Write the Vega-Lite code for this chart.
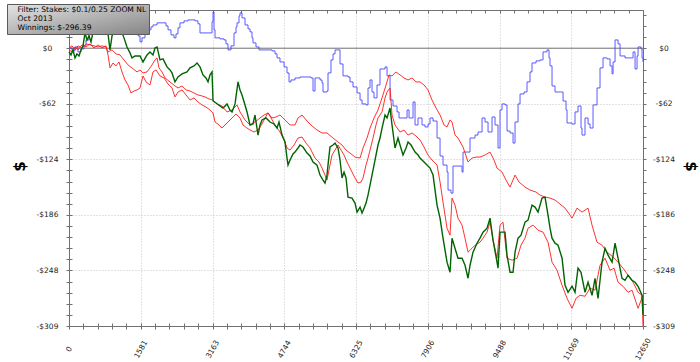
{
  "$schema": "https://vega.github.io/schema/vega-lite/v6.json",
  "width": 574,
  "height": 316,
  "autosize": {"type": "none"},
  "padding": {"left": 69, "top": 10, "right": 57, "bottom": 36},
  "background": "white",
  "config": {"view": {"stroke": null}, "font": "DejaVu Sans"},
  "datasets": {
    "info": [
      {"t": "Filter: Stakes: $0.1/0.25 ZOOM NL"},
      {"t": "Oct 2013"},
      {"t": "Winnings: $-296.39"}
    ],
    "lines": [
      {"s":"B","h":0,"v":0.3},{"s":"B","h":66,"v":-3.0},{"s":"B","h":132,"v":1.4},{"s":"B","h":198,"v":-4.1},{"s":"B","h":264,"v":-0.8},{"s":"B","h":331,"v":2.6},{"s":"B","h":375,"v":9.2},{"s":"B","h":441,"v":18.2},{"s":"B","h":529,"v":24.8},{"s":"B","h":639,"v":29.3},{"s":"B","h":749,"v":27.1},{"s":"B","h":860,"v":31.5},{"s":"B","h":970,"v":27.1},{"s":"B","h":1080,"v":23.7},{"s":"B","h":1190,"v":20.4},{"s":"B","h":1278,"v":18.2},{"s":"B","h":1366,"v":15.9},{"s":"B","h":1455,"v":17.0},{"s":"B","h":1521,"v":13.7},{"s":"B","h":1565,"v":7.0},{"s":"B","h":1609,"v":11.5},{"s":"B","h":1675,"v":17.0},{"s":"B","h":1741,"v":20.4},{"s":"B","h":1807,"v":23.7},{"s":"B","h":1851,"v":25.9},{"s":"B","h":1940,"v":28.2},{"s":"B","h":2072,"v":28.2},{"s":"B","h":2138,"v":24.8},{"s":"B","h":2182,"v":20.4},{"s":"B","h":2248,"v":14.8},{"s":"B","h":2314,"v":11.5},{"s":"B","h":2358,"v":15.9},{"s":"B","h":2402,"v":22.6},{"s":"B","h":2446,"v":28.2},{"s":"B","h":2535,"v":30.4},{"s":"B","h":2623,"v":31.5},{"s":"B","h":2711,"v":31.5},{"s":"B","h":2777,"v":30.4},{"s":"B","h":2843,"v":27.1},{"s":"B","h":2887,"v":17.0},{"s":"B","h":3019,"v":17.0},{"s":"B","h":3130,"v":17.0},{"s":"B","h":3152,"v":29.3},{"s":"B","h":3174,"v":40.4},{"s":"B","h":3196,"v":20.4},{"s":"B","h":3218,"v":11.5},{"s":"B","h":3328,"v":10.4},{"s":"B","h":3416,"v":9.2},{"s":"B","h":3460,"v":4.8},{"s":"B","h":3504,"v":-1.9},{"s":"B","h":3570,"v":2.6},{"s":"B","h":3637,"v":17.0},{"s":"B","h":3681,"v":23.7},{"s":"B","h":3703,"v":28.2},{"s":"B","h":3747,"v":36.0},{"s":"B","h":3769,"v":39.3},{"s":"B","h":3813,"v":33.7},{"s":"B","h":3879,"v":25.9},{"s":"B","h":3945,"v":21.5},{"s":"B","h":3989,"v":18.2},{"s":"B","h":4033,"v":11.5},{"s":"B","h":4055,"v":5.9},{"s":"B","h":4121,"v":1.4},{"s":"B","h":4188,"v":-1.9},{"s":"B","h":4342,"v":-1.9},{"s":"B","h":4474,"v":-3.0},{"s":"B","h":4540,"v":-6.3},{"s":"B","h":4584,"v":-10.8},{"s":"B","h":4650,"v":-15.3},{"s":"B","h":4739,"v":-20.8},{"s":"B","h":4805,"v":-27.5},{"s":"B","h":4849,"v":-37.5},{"s":"B","h":4893,"v":-35.3},{"s":"B","h":4981,"v":-33.1},{"s":"B","h":5091,"v":-32.0},{"s":"B","h":5223,"v":-32.0},{"s":"B","h":5334,"v":-33.1},{"s":"B","h":5378,"v":-47.6},{"s":"B","h":5422,"v":-33.1},{"s":"B","h":5532,"v":-35.3},{"s":"B","h":5576,"v":-38.6},{"s":"B","h":5598,"v":-48.7},{"s":"B","h":5686,"v":-47.6},{"s":"B","h":5708,"v":-27.5},{"s":"B","h":5774,"v":-13.0},{"s":"B","h":5819,"v":-6.3},{"s":"B","h":5863,"v":-1.9},{"s":"B","h":5951,"v":-1.9},{"s":"B","h":5973,"v":-17.5},{"s":"B","h":6039,"v":-30.8},{"s":"B","h":6149,"v":-32.0},{"s":"B","h":6193,"v":-37.5},{"s":"B","h":6259,"v":-43.1},{"s":"B","h":6348,"v":-49.8},{"s":"B","h":6414,"v":-57.6},{"s":"B","h":6458,"v":-62.0},{"s":"B","h":6546,"v":-63.1},{"s":"B","h":6590,"v":-44.2},{"s":"B","h":6634,"v":-35.3},{"s":"B","h":6678,"v":-48.7},{"s":"B","h":6722,"v":-55.3},{"s":"B","h":6788,"v":-40.9},{"s":"B","h":6854,"v":-23.1},{"s":"B","h":6965,"v":-20.8},{"s":"B","h":7009,"v":-30.8},{"s":"B","h":7075,"v":-57.6},{"s":"B","h":7141,"v":-64.3},{"s":"B","h":7229,"v":-70.9},{"s":"B","h":7273,"v":-77.6},{"s":"B","h":7383,"v":-77.6},{"s":"B","h":7450,"v":-68.7},{"s":"B","h":7494,"v":-77.6},{"s":"B","h":7582,"v":-59.8},{"s":"B","h":7626,"v":-85.4},{"s":"B","h":7692,"v":-77.6},{"s":"B","h":7780,"v":-85.4},{"s":"B","h":7846,"v":-87.6},{"s":"B","h":7912,"v":-84.3},{"s":"B","h":7956,"v":-77.6},{"s":"B","h":8023,"v":-81.0},{"s":"B","h":8111,"v":-99.9},{"s":"B","h":8177,"v":-119.9},{"s":"B","h":8243,"v":-130.0},{"s":"B","h":8331,"v":-137.8},{"s":"B","h":8353,"v":-157.8},{"s":"B","h":8419,"v":-161.2},{"s":"B","h":8463,"v":-131.1},{"s":"B","h":8573,"v":-131.1},{"s":"B","h":8662,"v":-137.8},{"s":"B","h":8684,"v":-115.5},{"s":"B","h":8794,"v":-115.5},{"s":"B","h":8838,"v":-99.9},{"s":"B","h":8948,"v":-96.6},{"s":"B","h":9014,"v":-93.2},{"s":"B","h":9103,"v":-77.6},{"s":"B","h":9169,"v":-82.1},{"s":"B","h":9235,"v":-93.2},{"s":"B","h":9323,"v":-76.5},{"s":"B","h":9389,"v":-85.4},{"s":"B","h":9455,"v":-111.0},{"s":"B","h":9499,"v":-68.7},{"s":"B","h":9543,"v":-62.0},{"s":"B","h":9609,"v":-63.1},{"s":"B","h":9653,"v":-92.1},{"s":"B","h":9720,"v":-94.3},{"s":"B","h":9786,"v":-105.5},{"s":"B","h":9830,"v":-82.1},{"s":"B","h":9896,"v":-62.0},{"s":"B","h":9940,"v":-50.9},{"s":"B","h":10028,"v":-48.7},{"s":"B","h":10094,"v":-37.5},{"s":"B","h":10160,"v":-26.4},{"s":"B","h":10204,"v":-16.4},{"s":"B","h":10293,"v":-14.1},{"s":"B","h":10381,"v":-13.0},{"s":"B","h":10447,"v":-4.1},{"s":"B","h":10535,"v":-1.9},{"s":"B","h":10579,"v":-10.8},{"s":"B","h":10601,"v":-19.7},{"s":"B","h":10645,"v":-42.0},{"s":"B","h":10711,"v":-48.7},{"s":"B","h":10822,"v":-48.7},{"s":"B","h":10888,"v":-58.7},{"s":"B","h":10954,"v":-68.7},{"s":"B","h":10976,"v":-83.2},{"s":"B","h":11086,"v":-84.3},{"s":"B","h":11152,"v":-70.9},{"s":"B","h":11218,"v":-64.3},{"s":"B","h":11284,"v":-88.8},{"s":"B","h":11306,"v":-96.6},{"s":"B","h":11372,"v":-77.6},{"s":"B","h":11439,"v":-84.3},{"s":"B","h":11483,"v":-88.8},{"s":"B","h":11549,"v":-63.1},{"s":"B","h":11637,"v":-44.2},{"s":"B","h":11703,"v":-21.9},{"s":"B","h":11769,"v":-10.8},{"s":"B","h":11858,"v":-11.9},{"s":"B","h":11924,"v":-19.7},{"s":"B","h":11968,"v":-28.6},{"s":"B","h":11990,"v":-15.3},{"s":"B","h":12034,"v":9.2},{"s":"B","h":12100,"v":4.8},{"s":"B","h":12144,"v":-8.6},{"s":"B","h":12254,"v":-10.8},{"s":"B","h":12386,"v":-10.8},{"s":"B","h":12431,"v":-4.1},{"s":"B","h":12475,"v":-23.1},{"s":"B","h":12519,"v":-8.6},{"s":"B","h":12541,"v":1.4},{"s":"B","h":12607,"v":-0.8},{"s":"B","h":12629,"v":-10.8},{"s":"B","h":12650,"v":-15.3},
      {"s":"G","h":0,"v":-4.1},{"s":"G","h":44,"v":-7.5},{"s":"G","h":88,"v":-1.9},{"s":"G","h":132,"v":-10.8},{"s":"G","h":176,"v":-6.3},{"s":"G","h":220,"v":-8.6},{"s":"G","h":264,"v":-1.9},{"s":"G","h":309,"v":2.6},{"s":"G","h":353,"v":17.0},{"s":"G","h":397,"v":9.2},{"s":"G","h":441,"v":13.7},{"s":"G","h":485,"v":7.0},{"s":"G","h":529,"v":18.2},{"s":"G","h":573,"v":22.6},{"s":"G","h":683,"v":20.4},{"s":"G","h":771,"v":24.8},{"s":"G","h":860,"v":15.9},{"s":"G","h":904,"v":-1.9},{"s":"G","h":948,"v":13.7},{"s":"G","h":1014,"v":22.6},{"s":"G","h":1080,"v":18.2},{"s":"G","h":1146,"v":20.4},{"s":"G","h":1212,"v":11.5},{"s":"G","h":1278,"v":1.4},{"s":"G","h":1344,"v":-5.2},{"s":"G","h":1389,"v":-10.8},{"s":"G","h":1455,"v":-8.6},{"s":"G","h":1565,"v":-8.6},{"s":"G","h":1631,"v":-15.3},{"s":"G","h":1719,"v":-7.5},{"s":"G","h":1785,"v":-4.1},{"s":"G","h":1851,"v":-7.5},{"s":"G","h":1895,"v":0.3},{"s":"G","h":1940,"v":1.4},{"s":"G","h":2006,"v":-13.0},{"s":"G","h":2072,"v":-11.9},{"s":"G","h":2160,"v":-20.8},{"s":"G","h":2226,"v":-24.2},{"s":"G","h":2270,"v":-27.5},{"s":"G","h":2336,"v":-37.5},{"s":"G","h":2402,"v":-32.0},{"s":"G","h":2491,"v":-28.6},{"s":"G","h":2601,"v":-26.4},{"s":"G","h":2667,"v":-21.9},{"s":"G","h":2755,"v":-19.7},{"s":"G","h":2821,"v":-16.4},{"s":"G","h":2887,"v":-20.8},{"s":"G","h":2953,"v":-29.7},{"s":"G","h":3019,"v":-33.1},{"s":"G","h":3064,"v":-37.5},{"s":"G","h":3108,"v":-29.7},{"s":"G","h":3152,"v":-26.4},{"s":"G","h":3174,"v":-58.7},{"s":"G","h":3240,"v":-60.9},{"s":"G","h":3328,"v":-64.3},{"s":"G","h":3394,"v":-66.5},{"s":"G","h":3482,"v":-62.0},{"s":"G","h":3548,"v":-68.7},{"s":"G","h":3593,"v":-70.9},{"s":"G","h":3659,"v":-62.0},{"s":"G","h":3725,"v":-37.5},{"s":"G","h":3769,"v":-46.4},{"s":"G","h":3813,"v":-52.0},{"s":"G","h":3879,"v":-63.1},{"s":"G","h":3923,"v":-70.9},{"s":"G","h":3989,"v":-85.4},{"s":"G","h":4055,"v":-84.3},{"s":"G","h":4099,"v":-74.3},{"s":"G","h":4166,"v":-96.6},{"s":"G","h":4210,"v":-85.4},{"s":"G","h":4254,"v":-79.8},{"s":"G","h":4342,"v":-77.6},{"s":"G","h":4430,"v":-82.1},{"s":"G","h":4518,"v":-84.3},{"s":"G","h":4584,"v":-88.8},{"s":"G","h":4628,"v":-82.1},{"s":"G","h":4695,"v":-96.6},{"s":"G","h":4761,"v":-104.3},{"s":"G","h":4805,"v":-122.2},{"s":"G","h":4827,"v":-130.0},{"s":"G","h":4871,"v":-124.4},{"s":"G","h":4937,"v":-117.7},{"s":"G","h":4981,"v":-115.5},{"s":"G","h":5047,"v":-111.0},{"s":"G","h":5091,"v":-107.7},{"s":"G","h":5157,"v":-109.9},{"s":"G","h":5246,"v":-116.6},{"s":"G","h":5312,"v":-119.9},{"s":"G","h":5378,"v":-126.6},{"s":"G","h":5466,"v":-130.0},{"s":"G","h":5532,"v":-141.1},{"s":"G","h":5598,"v":-146.7},{"s":"G","h":5642,"v":-150.0},{"s":"G","h":5686,"v":-141.1},{"s":"G","h":5708,"v":-130.0},{"s":"G","h":5752,"v":-109.9},{"s":"G","h":5819,"v":-107.7},{"s":"G","h":5863,"v":-105.5},{"s":"G","h":5929,"v":-111.0},{"s":"G","h":5973,"v":-124.4},{"s":"G","h":6017,"v":-144.4},{"s":"G","h":6061,"v":-137.8},{"s":"G","h":6105,"v":-144.4},{"s":"G","h":6149,"v":-165.6},{"s":"G","h":6237,"v":-166.7},{"s":"G","h":6303,"v":-172.3},{"s":"G","h":6348,"v":-182.3},{"s":"G","h":6414,"v":-176.7},{"s":"G","h":6458,"v":-183.4},{"s":"G","h":6502,"v":-177.9},{"s":"G","h":6546,"v":-172.3},{"s":"G","h":6590,"v":-163.4},{"s":"G","h":6634,"v":-152.2},{"s":"G","h":6678,"v":-141.1},{"s":"G","h":6744,"v":-124.4},{"s":"G","h":6810,"v":-107.7},{"s":"G","h":6854,"v":-99.9},{"s":"G","h":6899,"v":-88.8},{"s":"G","h":6965,"v":-74.3},{"s":"G","h":7009,"v":-77.6},{"s":"G","h":7075,"v":-66.5},{"s":"G","h":7119,"v":-85.4},{"s":"G","h":7185,"v":-111.0},{"s":"G","h":7251,"v":-99.9},{"s":"G","h":7295,"v":-107.7},{"s":"G","h":7361,"v":-118.8},{"s":"G","h":7427,"v":-111.0},{"s":"G","h":7472,"v":-104.3},{"s":"G","h":7538,"v":-107.7},{"s":"G","h":7626,"v":-115.5},{"s":"G","h":7692,"v":-118.8},{"s":"G","h":7736,"v":-122.2},{"s":"G","h":7846,"v":-127.7},{"s":"G","h":7956,"v":-133.3},{"s":"G","h":8023,"v":-141.1},{"s":"G","h":8067,"v":-157.8},{"s":"G","h":8111,"v":-174.5},{"s":"G","h":8177,"v":-189.0},{"s":"G","h":8243,"v":-211.3},{"s":"G","h":8287,"v":-224.7},{"s":"G","h":8331,"v":-238.0},{"s":"G","h":8397,"v":-249.2},{"s":"G","h":8441,"v":-211.3},{"s":"G","h":8507,"v":-222.5},{"s":"G","h":8573,"v":-233.6},{"s":"G","h":8662,"v":-233.6},{"s":"G","h":8728,"v":-241.4},{"s":"G","h":8794,"v":-255.9},{"s":"G","h":8838,"v":-241.4},{"s":"G","h":8904,"v":-226.9},{"s":"G","h":8992,"v":-216.9},{"s":"G","h":9058,"v":-211.3},{"s":"G","h":9125,"v":-204.6},{"s":"G","h":9213,"v":-200.2},{"s":"G","h":9279,"v":-189.0},{"s":"G","h":9345,"v":-213.5},{"s":"G","h":9433,"v":-238.0},{"s":"G","h":9455,"v":-244.7},{"s":"G","h":9499,"v":-204.6},{"s":"G","h":9609,"v":-204.6},{"s":"G","h":9653,"v":-230.2},{"s":"G","h":9720,"v":-249.2},{"s":"G","h":9786,"v":-249.2},{"s":"G","h":9830,"v":-226.9},{"s":"G","h":9896,"v":-211.3},{"s":"G","h":9962,"v":-208.0},{"s":"G","h":10050,"v":-193.5},{"s":"G","h":10116,"v":-191.3},{"s":"G","h":10204,"v":-174.5},{"s":"G","h":10271,"v":-176.7},{"s":"G","h":10337,"v":-182.3},{"s":"G","h":10425,"v":-166.7},{"s":"G","h":10491,"v":-165.6},{"s":"G","h":10557,"v":-185.7},{"s":"G","h":10601,"v":-200.2},{"s":"G","h":10645,"v":-211.3},{"s":"G","h":10711,"v":-216.9},{"s":"G","h":10778,"v":-219.1},{"s":"G","h":10866,"v":-233.6},{"s":"G","h":10932,"v":-263.7},{"s":"G","h":10998,"v":-271.5},{"s":"G","h":11086,"v":-264.8},{"s":"G","h":11152,"v":-271.5},{"s":"G","h":11218,"v":-244.7},{"s":"G","h":11284,"v":-249.2},{"s":"G","h":11372,"v":-271.5},{"s":"G","h":11439,"v":-260.3},{"s":"G","h":11527,"v":-274.8},{"s":"G","h":11593,"v":-255.9},{"s":"G","h":11659,"v":-278.2},{"s":"G","h":11703,"v":-258.1},{"s":"G","h":11747,"v":-238.0},{"s":"G","h":11813,"v":-222.5},{"s":"G","h":11880,"v":-230.2},{"s":"G","h":11968,"v":-238.0},{"s":"G","h":12034,"v":-216.9},{"s":"G","h":12100,"v":-233.6},{"s":"G","h":12188,"v":-255.9},{"s":"G","h":12254,"v":-258.1},{"s":"G","h":12320,"v":-252.5},{"s":"G","h":12408,"v":-258.1},{"s":"G","h":12475,"v":-260.3},{"s":"G","h":12541,"v":-264.8},{"s":"G","h":12629,"v":-274.8},{"s":"G","h":12650,"v":-296.39},
      {"s":"RA","h":0,"v":0.3},{"s":"RA","h":66,"v":2.6},{"s":"RA","h":132,"v":-1.9},{"s":"RA","h":198,"v":2.6},{"s":"RA","h":287,"v":0.3},{"s":"RA","h":375,"v":4.8},{"s":"RA","h":463,"v":3.7},{"s":"RA","h":551,"v":2.6},{"s":"RA","h":639,"v":1.4},{"s":"RA","h":727,"v":2.6},{"s":"RA","h":815,"v":1.4},{"s":"RA","h":860,"v":-4.1},{"s":"RA","h":948,"v":-1.9},{"s":"RA","h":1036,"v":-6.3},{"s":"RA","h":1124,"v":-7.5},{"s":"RA","h":1212,"v":-13.0},{"s":"RA","h":1300,"v":-18.6},{"s":"RA","h":1389,"v":-21.9},{"s":"RA","h":1499,"v":-26.4},{"s":"RA","h":1565,"v":-24.2},{"s":"RA","h":1631,"v":-27.5},{"s":"RA","h":1719,"v":-26.4},{"s":"RA","h":1785,"v":-21.9},{"s":"RA","h":1829,"v":-18.6},{"s":"RA","h":1895,"v":-13.0},{"s":"RA","h":1940,"v":-10.8},{"s":"RA","h":1984,"v":-21.9},{"s":"RA","h":2050,"v":-26.4},{"s":"RA","h":2116,"v":-33.1},{"s":"RA","h":2226,"v":-37.5},{"s":"RA","h":2336,"v":-42.0},{"s":"RA","h":2402,"v":-44.2},{"s":"RA","h":2491,"v":-42.0},{"s":"RA","h":2579,"v":-46.4},{"s":"RA","h":2667,"v":-47.6},{"s":"RA","h":2755,"v":-49.8},{"s":"RA","h":2843,"v":-52.0},{"s":"RA","h":2931,"v":-53.1},{"s":"RA","h":2997,"v":-54.2},{"s":"RA","h":3086,"v":-56.5},{"s":"RA","h":3174,"v":-57.6},{"s":"RA","h":3262,"v":-62.0},{"s":"RA","h":3372,"v":-64.3},{"s":"RA","h":3482,"v":-70.9},{"s":"RA","h":3593,"v":-68.7},{"s":"RA","h":3703,"v":-63.1},{"s":"RA","h":3769,"v":-70.9},{"s":"RA","h":3879,"v":-79.8},{"s":"RA","h":3989,"v":-85.4},{"s":"RA","h":4099,"v":-82.1},{"s":"RA","h":4210,"v":-77.6},{"s":"RA","h":4298,"v":-74.3},{"s":"RA","h":4386,"v":-72.0},{"s":"RA","h":4474,"v":-77.6},{"s":"RA","h":4562,"v":-76.5},{"s":"RA","h":4650,"v":-74.3},{"s":"RA","h":4761,"v":-79.8},{"s":"RA","h":4871,"v":-85.4},{"s":"RA","h":4981,"v":-85.4},{"s":"RA","h":5047,"v":-77.6},{"s":"RA","h":5135,"v":-74.3},{"s":"RA","h":5246,"v":-81.0},{"s":"RA","h":5356,"v":-86.5},{"s":"RA","h":5466,"v":-91.0},{"s":"RA","h":5576,"v":-94.3},{"s":"RA","h":5686,"v":-94.3},{"s":"RA","h":5819,"v":-99.9},{"s":"RA","h":5929,"v":-104.3},{"s":"RA","h":6017,"v":-107.7},{"s":"RA","h":6105,"v":-113.3},{"s":"RA","h":6193,"v":-116.6},{"s":"RA","h":6303,"v":-121.1},{"s":"RA","h":6414,"v":-122.2},{"s":"RA","h":6480,"v":-111.0},{"s":"RA","h":6568,"v":-99.9},{"s":"RA","h":6634,"v":-88.8},{"s":"RA","h":6722,"v":-77.6},{"s":"RA","h":6810,"v":-68.7},{"s":"RA","h":6899,"v":-55.3},{"s":"RA","h":6987,"v":-40.9},{"s":"RA","h":7053,"v":-29.7},{"s":"RA","h":7119,"v":-30.8},{"s":"RA","h":7207,"v":-26.4},{"s":"RA","h":7295,"v":-29.7},{"s":"RA","h":7383,"v":-33.1},{"s":"RA","h":7472,"v":-35.3},{"s":"RA","h":7560,"v":-33.1},{"s":"RA","h":7648,"v":-37.5},{"s":"RA","h":7736,"v":-37.5},{"s":"RA","h":7824,"v":-40.9},{"s":"RA","h":7912,"v":-46.4},{"s":"RA","h":8000,"v":-57.6},{"s":"RA","h":8089,"v":-66.5},{"s":"RA","h":8177,"v":-74.3},{"s":"RA","h":8265,"v":-85.4},{"s":"RA","h":8331,"v":-87.6},{"s":"RA","h":8397,"v":-79.8},{"s":"RA","h":8441,"v":-82.1},{"s":"RA","h":8507,"v":-96.6},{"s":"RA","h":8573,"v":-99.9},{"s":"RA","h":8684,"v":-109.9},{"s":"RA","h":8794,"v":-126.6},{"s":"RA","h":8882,"v":-122.2},{"s":"RA","h":8970,"v":-121.1},{"s":"RA","h":9058,"v":-121.1},{"s":"RA","h":9169,"v":-118.8},{"s":"RA","h":9279,"v":-115.5},{"s":"RA","h":9367,"v":-124.4},{"s":"RA","h":9433,"v":-133.3},{"s":"RA","h":9543,"v":-137.8},{"s":"RA","h":9631,"v":-146.7},{"s":"RA","h":9720,"v":-154.5},{"s":"RA","h":9830,"v":-141.1},{"s":"RA","h":9918,"v":-148.9},{"s":"RA","h":10050,"v":-154.5},{"s":"RA","h":10160,"v":-157.8},{"s":"RA","h":10293,"v":-160.0},{"s":"RA","h":10381,"v":-163.4},{"s":"RA","h":10491,"v":-165.6},{"s":"RA","h":10601,"v":-166.7},{"s":"RA","h":10711,"v":-168.9},{"s":"RA","h":10822,"v":-173.4},{"s":"RA","h":10932,"v":-177.9},{"s":"RA","h":11042,"v":-185.7},{"s":"RA","h":11086,"v":-189.0},{"s":"RA","h":11196,"v":-177.9},{"s":"RA","h":11306,"v":-182.3},{"s":"RA","h":11439,"v":-177.9},{"s":"RA","h":11527,"v":-196.8},{"s":"RA","h":11637,"v":-215.8},{"s":"RA","h":11747,"v":-219.1},{"s":"RA","h":11858,"v":-226.9},{"s":"RA","h":11968,"v":-231.3},{"s":"RA","h":12100,"v":-238.0},{"s":"RA","h":12210,"v":-244.7},{"s":"RA","h":12320,"v":-252.5},{"s":"RA","h":12431,"v":-260.3},{"s":"RA","h":12541,"v":-271.5},{"s":"RA","h":12629,"v":-274.8},{"s":"RA","h":12650,"v":-309},
      {"s":"RB","h":0,"v":-1.9},{"s":"RB","h":66,"v":-4.1},{"s":"RB","h":132,"v":1.4},{"s":"RB","h":198,"v":-1.9},{"s":"RB","h":287,"v":3.7},{"s":"RB","h":375,"v":1.4},{"s":"RB","h":463,"v":4.8},{"s":"RB","h":551,"v":0.3},{"s":"RB","h":639,"v":3.7},{"s":"RB","h":727,"v":0.3},{"s":"RB","h":815,"v":2.6},{"s":"RB","h":860,"v":-7.5},{"s":"RB","h":904,"v":-21.9},{"s":"RB","h":970,"v":-16.4},{"s":"RB","h":1036,"v":-19.7},{"s":"RB","h":1102,"v":-15.3},{"s":"RB","h":1168,"v":-26.4},{"s":"RB","h":1234,"v":-35.3},{"s":"RB","h":1300,"v":-40.9},{"s":"RB","h":1366,"v":-49.8},{"s":"RB","h":1433,"v":-47.6},{"s":"RB","h":1499,"v":-46.4},{"s":"RB","h":1565,"v":-44.2},{"s":"RB","h":1631,"v":-30.8},{"s":"RB","h":1697,"v":-37.5},{"s":"RB","h":1785,"v":-40.9},{"s":"RB","h":1851,"v":-26.4},{"s":"RB","h":1917,"v":-24.2},{"s":"RB","h":2006,"v":-30.8},{"s":"RB","h":2094,"v":-33.1},{"s":"RB","h":2182,"v":-39.8},{"s":"RB","h":2270,"v":-44.2},{"s":"RB","h":2336,"v":-54.2},{"s":"RB","h":2402,"v":-48.7},{"s":"RB","h":2491,"v":-46.4},{"s":"RB","h":2579,"v":-52.0},{"s":"RB","h":2667,"v":-57.6},{"s":"RB","h":2755,"v":-55.3},{"s":"RB","h":2843,"v":-59.8},{"s":"RB","h":2931,"v":-63.1},{"s":"RB","h":3019,"v":-65.4},{"s":"RB","h":3108,"v":-68.7},{"s":"RB","h":3174,"v":-72.0},{"s":"RB","h":3218,"v":-82.1},{"s":"RB","h":3306,"v":-85.4},{"s":"RB","h":3372,"v":-88.8},{"s":"RB","h":3460,"v":-84.3},{"s":"RB","h":3548,"v":-79.8},{"s":"RB","h":3615,"v":-76.5},{"s":"RB","h":3681,"v":-73.2},{"s":"RB","h":3769,"v":-77.6},{"s":"RB","h":3835,"v":-85.4},{"s":"RB","h":3923,"v":-88.8},{"s":"RB","h":3989,"v":-91.0},{"s":"RB","h":4077,"v":-93.2},{"s":"RB","h":4166,"v":-91.0},{"s":"RB","h":4254,"v":-84.3},{"s":"RB","h":4320,"v":-77.6},{"s":"RB","h":4386,"v":-72.0},{"s":"RB","h":4452,"v":-77.6},{"s":"RB","h":4540,"v":-85.4},{"s":"RB","h":4650,"v":-93.2},{"s":"RB","h":4739,"v":-102.1},{"s":"RB","h":4805,"v":-111.0},{"s":"RB","h":4871,"v":-113.3},{"s":"RB","h":4959,"v":-107.7},{"s":"RB","h":5047,"v":-99.9},{"s":"RB","h":5135,"v":-98.8},{"s":"RB","h":5223,"v":-105.5},{"s":"RB","h":5312,"v":-111.0},{"s":"RB","h":5422,"v":-122.2},{"s":"RB","h":5510,"v":-126.6},{"s":"RB","h":5576,"v":-133.3},{"s":"RB","h":5642,"v":-141.1},{"s":"RB","h":5686,"v":-146.7},{"s":"RB","h":5730,"v":-135.5},{"s":"RB","h":5797,"v":-118.8},{"s":"RB","h":5863,"v":-113.3},{"s":"RB","h":5929,"v":-107.7},{"s":"RB","h":5995,"v":-113.3},{"s":"RB","h":6061,"v":-118.8},{"s":"RB","h":6127,"v":-126.6},{"s":"RB","h":6215,"v":-135.5},{"s":"RB","h":6303,"v":-144.4},{"s":"RB","h":6370,"v":-150.0},{"s":"RB","h":6436,"v":-148.9},{"s":"RB","h":6480,"v":-144.4},{"s":"RB","h":6546,"v":-130.0},{"s":"RB","h":6590,"v":-122.2},{"s":"RB","h":6634,"v":-113.3},{"s":"RB","h":6700,"v":-99.9},{"s":"RB","h":6766,"v":-85.4},{"s":"RB","h":6810,"v":-77.6},{"s":"RB","h":6899,"v":-70.9},{"s":"RB","h":6965,"v":-55.3},{"s":"RB","h":7009,"v":-48.7},{"s":"RB","h":7075,"v":-44.2},{"s":"RB","h":7119,"v":-74.3},{"s":"RB","h":7185,"v":-85.4},{"s":"RB","h":7295,"v":-93.2},{"s":"RB","h":7383,"v":-91.0},{"s":"RB","h":7472,"v":-96.6},{"s":"RB","h":7560,"v":-94.3},{"s":"RB","h":7648,"v":-97.7},{"s":"RB","h":7736,"v":-102.1},{"s":"RB","h":7824,"v":-109.9},{"s":"RB","h":7912,"v":-118.8},{"s":"RB","h":8000,"v":-124.4},{"s":"RB","h":8111,"v":-130.0},{"s":"RB","h":8177,"v":-148.9},{"s":"RB","h":8243,"v":-171.2},{"s":"RB","h":8331,"v":-200.2},{"s":"RB","h":8397,"v":-208.0},{"s":"RB","h":8441,"v":-166.7},{"s":"RB","h":8507,"v":-174.5},{"s":"RB","h":8573,"v":-189.0},{"s":"RB","h":8662,"v":-196.8},{"s":"RB","h":8728,"v":-211.3},{"s":"RB","h":8794,"v":-226.9},{"s":"RB","h":8882,"v":-222.5},{"s":"RB","h":8948,"v":-219.1},{"s":"RB","h":9058,"v":-215.8},{"s":"RB","h":9125,"v":-211.3},{"s":"RB","h":9213,"v":-204.6},{"s":"RB","h":9279,"v":-193.5},{"s":"RB","h":9345,"v":-213.5},{"s":"RB","h":9433,"v":-233.6},{"s":"RB","h":9499,"v":-196.8},{"s":"RB","h":9565,"v":-193.5},{"s":"RB","h":9653,"v":-233.6},{"s":"RB","h":9764,"v":-235.8},{"s":"RB","h":9874,"v":-233.6},{"s":"RB","h":9962,"v":-219.1},{"s":"RB","h":10050,"v":-211.3},{"s":"RB","h":10116,"v":-200.2},{"s":"RB","h":10227,"v":-196.8},{"s":"RB","h":10337,"v":-202.4},{"s":"RB","h":10447,"v":-204.6},{"s":"RB","h":10557,"v":-215.8},{"s":"RB","h":10645,"v":-238.0},{"s":"RB","h":10755,"v":-246.9},{"s":"RB","h":10866,"v":-263.7},{"s":"RB","h":10976,"v":-278.2},{"s":"RB","h":11086,"v":-289.3},{"s":"RB","h":11174,"v":-278.2},{"s":"RB","h":11262,"v":-274.8},{"s":"RB","h":11372,"v":-275.9},{"s":"RB","h":11483,"v":-267.0},{"s":"RB","h":11593,"v":-269.2},{"s":"RB","h":11703,"v":-241.4},{"s":"RB","h":11813,"v":-233.6},{"s":"RB","h":11924,"v":-247.0},{"s":"RB","h":12012,"v":-244.7},{"s":"RB","h":12100,"v":-260.3},{"s":"RB","h":12210,"v":-264.8},{"s":"RB","h":12320,"v":-271.5},{"s":"RB","h":12408,"v":-269.2},{"s":"RB","h":12497,"v":-282.6},{"s":"RB","h":12541,"v":-289.3},{"s":"RB","h":12607,"v":-280.4},{"s":"RB","h":12650,"v":-274.8}
    ]
  },
  "layer": [
    {
      "data": {"values": [{"z": 0}]},
      "mark": {"type": "rule", "color": "#6e6e6e", "strokeWidth": 1},
      "encoding": {
        "y": {"field": "z", "type": "quantitative", "scale": {"domain": [-309, 42.5], "nice": false, "zero": false}, "axis": null}
      }
    },
    {
      "data": {"name": "lines"},
      "transform": [{"filter": "datum.s == 'B'"}],
      "mark": {"type": "line", "interpolate": "step-after", "color": "#4848ff", "strokeWidth": 0.9},
      "encoding": {
        "x": {
          "field": "h", "type": "quantitative",
          "scale": {"domain": [0, 12650], "nice": false, "zero": false},
          "axis": {
            "orient": "bottom", "title": null,
            "values": [0,316.25,632.5,948.75,1265,1581.25,1897.5,2213.75,2530,2846.25,3162.5,3478.75,3795,4111.25,4427.5,4743.75,5060,5376.25,5692.5,6008.75,6325,6641.25,6957.5,7273.75,7590,7906.25,8222.5,8538.75,8855,9171.25,9487.5,9803.75,10120,10436.25,10752.5,11068.75,11385,11701.25,12017.5,12333.75,12650],
            "labelExpr": "indexof([0,1581.25,3162.5,4743.75,6325,7906.25,9487.5,11068.75,12650], datum.value) >= 0 ? '' + round(datum.value) : ''",
            "labelAngle": -60, "labelAlign": "center", "labelBaseline": "middle", "labelPadding": 20,
            "labelFont": "DejaVu Sans", "labelFontSize": 7.5, "labelColor": "#222222",
            "labelOverlap": false, "labelFlush": false,
            "tickSize": 3, "tickColor": "#707070", "domainColor": "#707070",
            "grid": true, "gridColor": "#c4c4c4", "gridDash": [1, 2],
            "gridOpacity": {"condition": {"test": "indexof([1581.25,3162.5,4743.75,6325,7906.25,9487.5,11068.75], datum.value) >= 0", "value": 1}, "value": 0}
          }
        },
        "y": {
          "field": "v", "type": "quantitative",
          "scale": {"domain": [-309, 42.5], "nice": false, "zero": false},
          "axis": {
            "orient": "left",
            "values": [37.08,24.72,12.36,0,-12.36,-24.72,-37.08,-49.44,-61.8,-74.16,-86.52,-98.88,-111.24,-123.6,-135.96,-148.32,-160.68,-173.04,-185.4,-197.76,-210.12,-222.48,-234.84,-247.2,-259.56,-271.92,-284.28,-296.64,-309],
            "labelExpr": "datum.value == 0 ? '$0' : (indexof([-61.8,-123.6,-185.4,-247.2,-309], datum.value) >= 0 ? '-$' + ceil(-datum.value - 0.000001) : '')",
            "labelAlign": "center", "labelBaseline": "middle", "labelPadding": 19,
            "labelFont": "DejaVu Sans", "labelFontSize": 7.5, "labelColor": "#222222", "labelOverlap": false, "labelFlush": false,
            "tickSize": 3, "tickColor": "#707070", "domainColor": "#707070",
            "grid": true, "gridColor": "#c4c4c4", "gridDash": [1, 2],
            "gridOpacity": {"condition": {"test": "indexof([-61.8,-123.6,-185.4,-247.2], datum.value) >= 0", "value": 1}, "value": 0},
            "title": "$", "titleFont": "DejaVu Sans", "titleFontSize": 15, "titleFontWeight": "bold", "titleColor": "#000000",
            "titleX": -50, "titleY": 156, "titleAngle": -90, "titleAlign": "center", "titleBaseline": "middle"
          }
        }
      }
    },
    {
      "data": {"name": "lines"},
      "transform": [{"filter": "datum.s == 'RA' || datum.s == 'RB'"}],
      "mark": {"type": "line", "color": "#ff1a1a", "strokeWidth": 0.9},
      "encoding": {
        "detail": {"field": "s"},
        "x": {
          "field": "h", "type": "quantitative",
          "axis": {
            "orient": "bottom", "title": null,
            "values": [0,316.25,632.5,948.75,1265,1581.25,1897.5,2213.75,2530,2846.25,3162.5,3478.75,3795,4111.25,4427.5,4743.75,5060,5376.25,5692.5,6008.75,6325,6641.25,6957.5,7273.75,7590,7906.25,8222.5,8538.75,8855,9171.25,9487.5,9803.75,10120,10436.25,10752.5,11068.75,11385,11701.25,12017.5,12333.75,12650],
            "labels": false, "domain": false, "grid": false, "tickSize": -3, "tickColor": "#707070"
          }
        },
        "y": {
          "field": "v", "type": "quantitative",
          "axis": {
            "orient": "left", "title": null,
            "values": [37.08,24.72,12.36,0,-12.36,-24.72,-37.08,-49.44,-61.8,-74.16,-86.52,-98.88,-111.24,-123.6,-135.96,-148.32,-160.68,-173.04,-185.4,-197.76,-210.12,-222.48,-234.84,-247.2,-259.56,-271.92,-284.28,-296.64,-309],
            "labels": false, "domain": false, "grid": false, "tickSize": -3, "tickColor": "#707070"
          }
        }
      }
    },
    {
      "data": {"name": "lines"},
      "transform": [{"filter": "datum.s == 'G'"}],
      "mark": {"type": "line", "color": "#006400", "strokeWidth": 1.4},
      "encoding": {
        "x": {
          "field": "h", "type": "quantitative",
          "axis": {
            "orient": "top", "title": null,
            "values": [0,316.25,632.5,948.75,1265,1581.25,1897.5,2213.75,2530,2846.25,3162.5,3478.75,3795,4111.25,4427.5,4743.75,5060,5376.25,5692.5,6008.75,6325,6641.25,6957.5,7273.75,7590,7906.25,8222.5,8538.75,8855,9171.25,9487.5,9803.75,10120,10436.25,10752.5,11068.75,11385,11701.25,12017.5,12333.75,12650],
            "labels": false, "grid": false, "tickSize": -3, "tickColor": "#707070", "domainColor": "#707070"
          }
        },
        "y": {
          "field": "v", "type": "quantitative",
          "axis": {
            "orient": "right",
            "values": [37.08,24.72,12.36,0,-12.36,-24.72,-37.08,-49.44,-61.8,-74.16,-86.52,-98.88,-111.24,-123.6,-135.96,-148.32,-160.68,-173.04,-185.4,-197.76,-210.12,-222.48,-234.84,-247.2,-259.56,-271.92,-284.28,-296.64,-309],
            "labelExpr": "datum.value == 0 ? '$0' : (indexof([-61.8,-123.6,-185.4,-247.2,-309], datum.value) >= 0 ? '-$' + ceil(-datum.value - 0.000001) : '')",
            "labelAlign": "center", "labelBaseline": "middle", "labelPadding": 17.5,
            "labelFont": "DejaVu Sans", "labelFontSize": 7.5, "labelColor": "#222222", "labelOverlap": false, "labelFlush": false,
            "tickSize": 3, "tickColor": "#707070", "domainColor": "#707070", "grid": false,
            "title": "$", "titleFont": "DejaVu Sans", "titleFontSize": 15, "titleFontWeight": "bold", "titleColor": "#000000",
            "titleX": 47, "titleY": 156, "titleAngle": 90, "titleAlign": "center", "titleBaseline": "middle"
          }
        }
      }
    },
    {
      "data": {"name": "info"},
      "mark": {"type": "point", "opacity": 0},
      "encoding": {
        "color": {
          "field": "t", "type": "nominal",
          "scale": {"domain": ["Filter: Stakes: $0.1/0.25 ZOOM NL", "Oct 2013", "Winnings: $-296.39"], "range": ["#000000", "#000000", "#000000"]},
          "legend": {
            "orient": "none", "legendX": -62, "legendY": -6, "title": null,
            "fillColor": {"value": {"gradient": "linear", "x1": 0, "y1": 0, "x2": 1, "y2": 1, "stops": [{"offset": 0, "color": "#e4e4e4"}, {"offset": 1, "color": "#858585"}]}},
            "strokeColor": "#5a5a5a", "padding": 2, "cornerRadius": 0,
            "symbolSize": 0, "symbolOpacity": 0, "symbolStrokeWidth": 0, "labelOffset": 1,
            "labelFont": "DejaVu Sans", "labelFontSize": 7.6, "labelColor": "#000000", "labelLimit": 400,
            "rowPadding": 0
          }
        }
      }
    }
  ],
  "resolve": {"axis": {"x": "independent", "y": "independent"}}
}
